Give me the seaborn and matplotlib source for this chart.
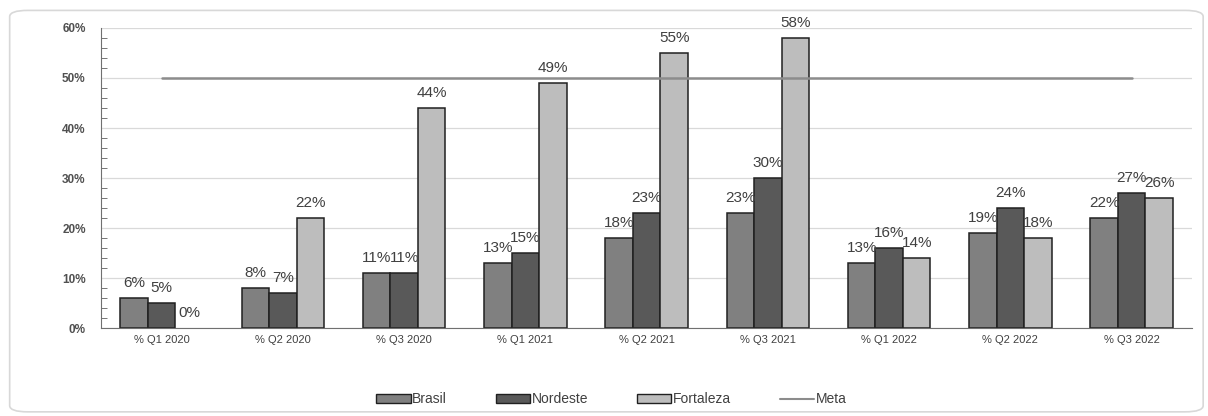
import numpy as np
import pandas as pd
import matplotlib.pyplot as plt
import seaborn as sns
from matplotlib.patches import FancyBboxPatch, Patch
from matplotlib.lines import Line2D
from matplotlib.ticker import MultipleLocator, PercentFormatter

# dados
quarters = ["% Q1 2020", "% Q2 2020", "% Q3 2020", "% Q1 2021", "% Q2 2021",
            "% Q3 2021", "% Q1 2022", "% Q2 2022", "% Q3 2022"]
brasil = [6, 8, 11, 13, 18, 23, 13, 19, 22]
nordeste = [5, 7, 11, 15, 23, 30, 16, 24, 27]
fortaleza = [0, 22, 44, 49, 55, 58, 14, 18, 26]
meta = [50, 50, 50, 50, 50, 50, 50, 50, 50]
series = ["Brasil", "Nordeste", "Fortaleza"]
cores = ["#808080", "#595959", "#bdbdbd"]

df = pd.DataFrame({"Trimestre": quarters, "Brasil": brasil,
                   "Nordeste": nordeste, "Fortaleza": fortaleza})
df = df.melt(id_vars="Trimestre", var_name="Local", value_name="Valor")

sns.set_style("white")
plt.rcParams['font.family'] = ['Liberation Sans', 'DejaVu Sans']

fig = plt.figure(figsize=(12.08, 4.16), dpi=100)
ax = fig.add_axes([0.0836, 0.2115, 0.9034, 0.7212])

sns.barplot(data=df, x="Trimestre", y="Valor", hue="Local", hue_order=series,
            palette=cores, width=0.68, edgecolor="#202020", linewidth=1.1,
            saturation=1, legend=False, ax=ax)

# barra com valor zero nao aparece
for p in ax.patches:
    if p.get_height() == 0:
        p.set_linewidth(0)

for cont in ax.containers:
    ax.bar_label(cont, labels=[f"{v:.0f}%" for v in cont.datavalues],
                 padding=6, fontsize=11, color="#404040")

x = np.arange(len(quarters))
ax.plot(x, meta, color="#8c8c8c", linewidth=1.8, zorder=3)

ax.set_ylim(0, 60)
ax.set_xlim(-0.5, len(quarters) - 0.5)
ax.yaxis.set_major_locator(MultipleLocator(10))
ax.yaxis.set_minor_locator(MultipleLocator(2))
ax.yaxis.set_major_formatter(PercentFormatter(decimals=0))
ax.grid(axis="y", which="major", color="#d9d9d9", linewidth=0.9)
ax.set_axisbelow(True)
ax.tick_params(axis="y", which="both", direction="in", left=True, length=4,
               color="#606060", labelsize=8.5, labelcolor="#505050", pad=11)
ax.tick_params(axis="y", which="major", length=0)
ax.tick_params(axis="x", length=0, labelsize=8, labelcolor="#404040", pad=5)
for lab in ax.get_yticklabels():
    lab.set_fontweight("bold")
ax.set_xlabel("")
ax.set_ylabel("")
for s in ["top", "right"]:
    ax.spines[s].set_visible(False)
ax.spines["left"].set_color("#707070")
ax.spines["bottom"].set_color("#707070")

handles = [Patch(facecolor=c, edgecolor="#202020", linewidth=1) for c in cores]
handles.append(Line2D([0], [0], color="#8c8c8c", linewidth=1.5))
fig.legend(handles, series + ["Meta"], loc="center", bbox_to_anchor=(0.506, 0.04),
           ncol=4, frameon=False, fontsize=10, handlelength=2.5, handleheight=0.55,
           handletextpad=0.1, columnspacing=3.5, labelcolor="#404040")

borda = FancyBboxPatch((0.008, 0.01), 0.988, 0.965, boxstyle="round,pad=0,rounding_size=0.015",
                       transform=fig.transFigure, facecolor="none", edgecolor="#d8d8d8",
                       linewidth=1.2, zorder=-1)
fig.patches.append(borda)

fig.savefig("out.png", dpi=100)
